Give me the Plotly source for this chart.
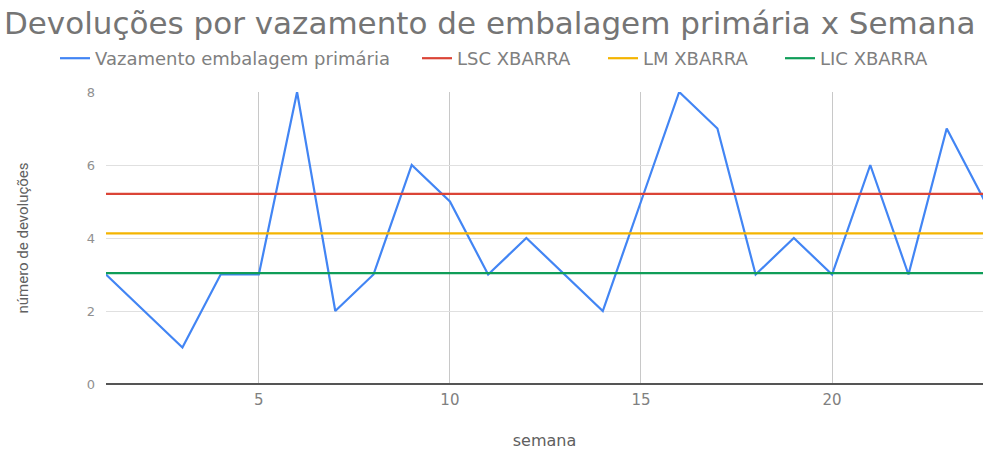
import plotly.graph_objects as go

semanas = list(range(1, 25))
vazamento = [3, 2, 1, 3, 3, 8, 2, 3, 6, 5, 3, 4, 3, 2, 5, 8, 7, 3, 4, 3, 6, 3, 7, 5]
lsc_val = 5.21
lm_val = 4.125
lic_val = 3.04

series = [
    ("Vazamento embalagem primária", vazamento, "#4285F4"),
    ("LSC XBARRA", [lsc_val] * len(semanas), "#DB4437"),
    ("LM XBARRA", [lm_val] * len(semanas), "#F4B400"),
    ("LIC XBARRA", [lic_val] * len(semanas), "#0F9D58"),
]
legend_text_x = [95, 457, 643, 820]

fig = go.Figure()
legend_ids = ["legend", "legend2", "legend3", "legend4"]
for (name, vals, color), lid in zip(series, legend_ids):
    fig.add_trace(go.Scatter(x=semanas, y=vals, mode="lines", name=name, legend=lid,
                             line=dict(color=color, width=2.2)))

layout_legends = {}
for lid, tx in zip(legend_ids, legend_text_x):
    layout_legends[lid] = dict(orientation="h", xref="container", x=(tx - 40) / 983,
                               xanchor="left", yref="container", y=0.87, yanchor="middle",
                               font=dict(size=18, color="#808080", family="DejaVu Sans"),
                               bgcolor="rgba(0,0,0,0)", borderwidth=0)

fig.update_layout(
    width=983, height=450,
    margin=dict(l=106, r=0, t=92, b=66),
    paper_bgcolor="white", plot_bgcolor="white",
    font=dict(family="DejaVu Sans", color="#757575"),
    title=dict(text="Devoluções por vazamento de embalagem primária x Semana",
               x=0.004, xanchor="left", xref="container", y=0.948, yanchor="middle",
               font=dict(size=31, color="#757575", family="DejaVu Sans")),
    showlegend=True,
    **layout_legends,
)
fig.update_xaxes(range=[1, 23.95], tickvals=[5, 10, 15, 20], showgrid=True,
                 gridcolor="#c8c8c8", gridwidth=1, zeroline=False, showline=False,
                 ticklabelstandoff=5,
                 tickfont=dict(size=15, color="#808080"),
                 title=dict(text="semana", font=dict(size=16, color="#606060"), standoff=26))
fig.update_yaxes(range=[0, 8], tickvals=[0, 2, 4, 6, 8], showgrid=True,
                 gridcolor="#e0e0e0", gridwidth=1, zeroline=True, zerolinecolor="#555555",
                 zerolinewidth=1.5, showline=False, ticklabelstandoff=10,
                 tickfont=dict(size=13, color="#909090"),
                 title=dict(text="número de devoluções",
                            font=dict(size=15, color="#606060", family="Roboto"),
                            standoff=54))

fig.write_html("out.html")
